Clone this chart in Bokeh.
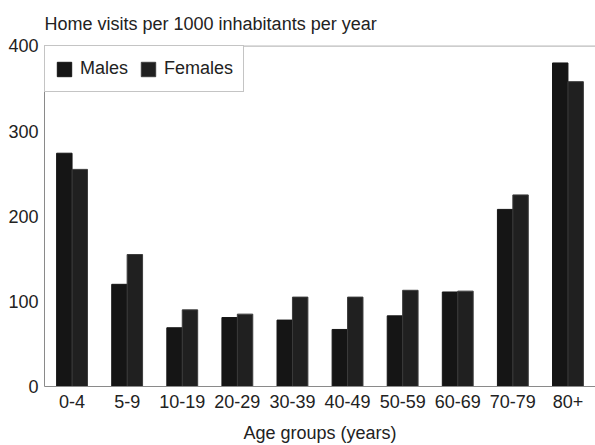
from bokeh.plotting import figure
from bokeh.models import FactorRange, Range1d, FixedTicker, Span, Legend, LegendItem
from bokeh.transform import dodge
from bokeh.embed import file_html
from bokeh.resources import INLINE
from bokeh.models import ColumnDataSource

categories = ["0-4", "5-9", "10-19", "20-29", "30-39", "40-49", "50-59", "60-69", "70-79", "80+"]
males = [274, 120, 69, 81, 78, 67, 83, 111, 208, 380]
females = [255, 155, 90, 85, 105, 105, 113, 112, 225, 358]
y_ticks = [0, 100, 200, 300, 400]

FONT = "Liberation Sans"
TXT = "#222222"
FS = "18px"

src = ColumnDataSource(dict(cat=categories, males=males, females=females))

p = figure(x_range=FactorRange(*categories), y_range=Range1d(0, 400.5),
           width=595, height=445, output_backend="svg", toolbar_location=None,
           min_border_left=44, min_border_right=0, min_border_top=44, min_border_bottom=0)

rm = p.vbar(x=dodge("cat", -0.14, range=p.x_range), top="males", width=0.28, source=src,
            fill_color="#151515", line_color="#151515")
rf = p.vbar(x=dodge("cat", 0.14, range=p.x_range), top="females", width=0.28, source=src,
            fill_color="#202020", line_color="#3c3c3c")

p.title.text = "Home visits per 1000 inhabitants per year"
p.title.text_font = FONT
p.title.text_font_size = FS
p.title.text_font_style = "normal"
p.title.text_color = TXT
p.title.align = "left"
p.title.offset = 0
p.title.standoff = 23

p.xgrid.visible = False
p.ygrid.visible = False
p.outline_line_color = None
p.add_layout(Span(location=400, dimension="width", line_color="#8a8a8a", line_width=1))

for ax in (p.xaxis[0], p.yaxis[0]):
    ax.axis_line_color = "#8a8a8a"
    ax.major_tick_line_color = None
    ax.minor_tick_line_color = None
    ax.major_tick_out = 0
    ax.major_tick_in = 0
    ax.minor_tick_out = 0
    ax.major_label_text_font = FONT
    ax.major_label_text_font_size = FS
    ax.major_label_text_color = TXT

p.yaxis.ticker = FixedTicker(ticks=y_ticks)
p.yaxis.major_label_standoff = 6
p.xaxis.major_label_standoff = 8
p.xaxis.axis_label = "Age groups (years)"
p.xaxis.axis_label_text_font = FONT
p.xaxis.axis_label_text_font_size = FS
p.xaxis.axis_label_text_font_style = "normal"
p.xaxis.axis_label_text_color = TXT
p.xaxis.axis_label_standoff = 12

legend = Legend(items=[LegendItem(label="Males", renderers=[rm]),
                       LegendItem(label="Females", renderers=[rf])],
                location="top_left", orientation="horizontal",
                margin=0, padding=10, spacing=11, label_standoff=7,
                glyph_width=18, glyph_height=18, label_height=25,
                label_text_font=FONT, label_text_font_size=FS, label_text_color=TXT,
                border_line_color="#8a8a8a", background_fill_color="white", background_fill_alpha=1)
p.add_layout(legend)

open("out.html", "w").write(file_html(p, INLINE))
